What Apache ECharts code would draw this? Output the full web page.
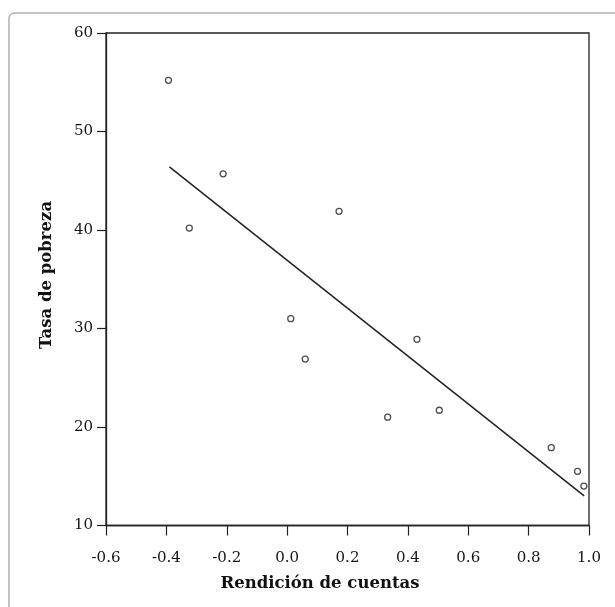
<!DOCTYPE html>
<html>
<head>
<meta charset="utf-8">
<script src="https://cdn.jsdelivr.net/npm/echarts@6/dist/echarts.min.js"></script>
<style>
  html, body { margin: 0; padding: 0; background: #ffffff; }
  #chart { width: 615px; height: 607px; }
</style>
</head>
<body>
<div id="chart"></div>
<script>
// Accountability index (x) against poverty rate (y), one point per observation
const rendicion = [-0.393, -0.324, -0.212, 0.012, 0.060, 0.172, 0.333, 0.430, 0.504, 0.875, 0.962, 0.983];
const pobreza   = [55.2, 40.2, 45.7, 31.0, 26.9, 41.9, 21.0, 28.9, 21.7, 17.9, 15.5, 14.0];

// Fitted regression line, drawn between its two end points
const ajusteX = [-0.39, 0.984];
const ajusteY = [46.4, 13.0];

// Axis settings
const xMin = -0.6, xMax = 1.0, xStep = 0.2;
const yMin = 10, yMax = 60, yStep = 10;

const xTitle = 'Rendición de cuentas';
const yTitle = 'Tasa de pobreza';

const ink = '#222222';
const serif = '"DejaVu Serif", "Liberation Serif", serif';

const puntos = rendicion.map((x, i) => [x, pobreza[i]]);
const recta = ajusteX.map((x, i) => [x, ajusteY[i]]);

const chart = echarts.init(document.getElementById('chart'), null, { renderer: 'canvas' });

chart.setOption({
  animation: false,
  backgroundColor: '#ffffff',
  grid: {
    left: 106, right: 26, top: 33, bottom: 81.5,
    show: true,
    borderColor: ink,
    borderWidth: 1.3,
    backgroundColor: 'transparent'
  },
  xAxis: {
    type: 'value',
    min: xMin, max: xMax, interval: xStep,
    axisLine: { show: true, onZero: false, lineStyle: { color: ink, width: 1.3 } },
    axisTick: { show: true, inside: false, length: 10, lineStyle: { color: ink, width: 1.2 } },
    splitLine: { show: false },
    axisLabel: {
      margin: 25,
      color: '#151515',
      fontFamily: serif,
      fontSize: 15,
      formatter: v => v.toFixed(1)
    }
  },
  yAxis: {
    type: 'value',
    min: yMin, max: yMax, interval: yStep,
    axisLine: { show: true, onZero: false, lineStyle: { color: ink, width: 1.3 } },
    axisTick: { show: true, inside: false, length: 9, lineStyle: { color: ink, width: 1.2 } },
    splitLine: { show: false },
    axisLabel: {
      margin: 13,
      color: '#151515',
      fontFamily: serif,
      fontSize: 15
    }
  },
  graphic: [
    {
      type: 'rect',
      silent: true,
      z: -1,
      shape: { x: 9, y: 13, width: 800, height: 800, r: 5 },
      style: { fill: 'none', stroke: '#8a8a8a', lineWidth: 1 }
    },
    {
      type: 'text',
      x: 320, y: 584,
      style: {
        text: xTitle,
        font: 'bold 16.5px ' + serif,
        fill: '#111111',
        textAlign: 'center',
        textVerticalAlign: 'middle'
      }
    },
    {
      type: 'text',
      x: 47, y: 275,
      rotation: Math.PI / 2,
      style: {
        text: yTitle,
        font: 'bold 16.5px ' + serif,
        fill: '#111111',
        textAlign: 'center',
        textVerticalAlign: 'middle'
      }
    }
  ],
  series: [
    {
      type: 'line',
      data: recta,
      symbol: 'none',
      lineStyle: { color: ink, width: 1.5 },
      z: 2
    },
    {
      type: 'scatter',
      data: puntos,
      symbol: 'circle',
      symbolSize: 6,
      itemStyle: { color: '#ffffff', borderColor: ink, borderWidth: 1.3 },
      z: 3
    }
  ]
});
</script>
</body>
</html>
